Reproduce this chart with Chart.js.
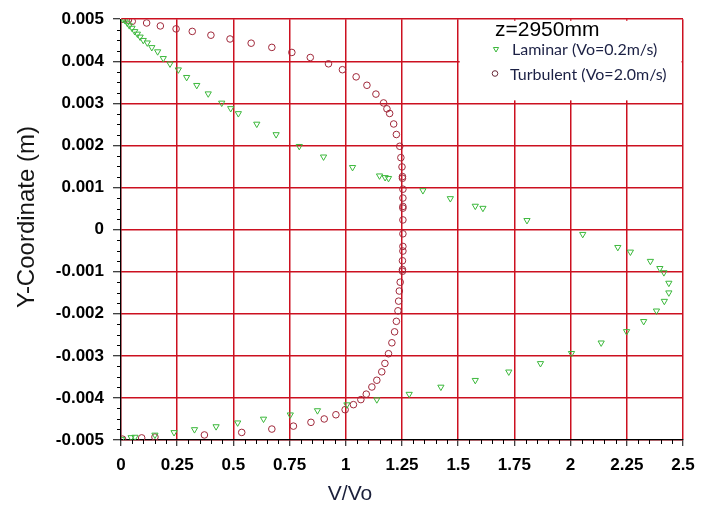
<!DOCTYPE html>
<html>
<head>
<meta charset="utf-8">
<script src="https://cdn.jsdelivr.net/npm/chart.js@4/dist/chart.umd.min.js"></script>
<style>
html,body{margin:0;padding:0;background:#fff;}
canvas{display:block;}
</style>
</head>
<body>
<canvas id="c" width="707" height="507"></canvas>
<script>
// ---- data ----
const lamV = [0.008,0.018,0.028,0.037,0.049,0.061,0.073,0.085,0.099,0.117,0.137,0.163,0.188,0.218,0.255,0.292,0.337,0.388,0.448,0.488,0.522,0.604,0.690,0.793,0.901,1.030,1.150,1.175,1.190,1.343,1.465,1.576,1.610,1.806,2.054,2.210,2.266,2.355,2.397,2.415,2.437,2.437,2.417,2.382,2.325,2.249,2.136,2.004,1.866,1.725,1.576,1.423,1.282,1.138,1.005,0.874,0.753,0.634,0.519,0.423,0.327,0.236,0.151,0.062,0.045,0.003];
const lamY = [0.00500,0.00497,0.00491,0.00485,0.00479,0.00471,0.00465,0.00458,0.00450,0.00444,0.00433,0.00423,0.00407,0.00394,0.00380,0.00362,0.00343,0.00323,0.00301,0.00288,0.00276,0.00251,0.00226,0.00198,0.00173,0.00148,0.00128,0.00124,0.00122,0.00093,0.00074,0.00056,0.00051,0.00022,-0.00011,-0.00042,-0.00053,-0.00075,-0.00092,-0.00102,-0.00127,-0.00150,-0.00170,-0.00193,-0.00218,-0.00242,-0.00269,-0.00294,-0.00318,-0.00338,-0.00358,-0.00374,-0.00391,-0.00404,-0.00416,-0.00430,-0.00440,-0.00450,-0.00459,-0.00468,-0.00475,-0.00482,-0.00488,-0.00493,-0.00494,-0.00498];
const turbV = [0.007,0.033,0.050,0.114,0.175,0.245,0.317,0.400,0.485,0.579,0.671,0.760,0.842,0.923,0.985,1.046,1.094,1.134,1.168,1.183,1.195,1.213,1.225,1.240,1.245,1.250,1.252,1.252,1.254,1.254,1.254,1.254,1.254,1.254,1.254,1.254,1.252,1.252,1.252,1.242,1.238,1.235,1.232,1.225,1.217,1.205,1.190,1.174,1.160,1.138,1.116,1.091,1.067,1.034,0.997,0.956,0.904,0.845,0.767,0.671,0.537,0.371,0.151,0.092,0.007];
const turbY = [0.00500,0.00498,0.00495,0.00491,0.00484,0.00477,0.00471,0.00462,0.00453,0.00443,0.00433,0.00421,0.00409,0.00394,0.00380,0.00363,0.00343,0.00322,0.00301,0.00287,0.00276,0.00251,0.00226,0.00198,0.00171,0.00149,0.00126,0.00122,0.00096,0.00075,0.00055,0.00051,0.00023,-0.00010,-0.00040,-0.00051,-0.00074,-0.00095,-0.00099,-0.00125,-0.00146,-0.00170,-0.00193,-0.00218,-0.00243,-0.00269,-0.00295,-0.00318,-0.00338,-0.00358,-0.00374,-0.00391,-0.00404,-0.00416,-0.00428,-0.00440,-0.00450,-0.00458,-0.00467,-0.00474,-0.00482,-0.00488,-0.00493,-0.00495,-0.00498];
const xTickLabels = ['0','0.25','0.5','0.75','1','1.25','1.5','1.75','2','2.25','2.5'];
const yTickLabels = ['-0.005','-0.004','-0.003','-0.002','-0.001','0','0.001','0.002','0.003','0.004','0.005'];
const seriesNames = ['Laminar (Vo=0.2m/s)','Turbulent (Vo=2.0m/s)'];
const legendTitle = 'z=2950mm';
const xTitle = 'V/Vo';
const yTitle = 'Y-Coordinate (m)';

const GRID = '#cc1020';
const GREEN = '#3cb83c';
const DRED = '#a0283a';

const lamData = lamV.map((v,i)=>({x:v,y:lamY[i]}));
const turbData = turbV.map((v,i)=>({x:v,y:turbY[i]}));

const decor = {
  id:'decor',
  beforeDatasetsDraw(chart){
    const ctx = chart.ctx, xs = chart.scales.x, ys = chart.scales.y;
    // minor ticks
    ctx.save();
    ctx.strokeStyle = '#000'; ctx.lineWidth = 1;
    ctx.beginPath();
    for(let i=0;i<=50;i++){
      if(i%5===0) continue;
      const px = Math.round(xs.getPixelForValue(i*0.05))+0.5;
      ctx.moveTo(px, ys.bottom); ctx.lineTo(px, ys.bottom+4);
    }
    for(let i=0;i<=40;i++){
      if(i%4===0) continue;
      const py = Math.round(ys.getPixelForValue(-0.005+i*0.00025))+0.5;
      ctx.moveTo(xs.left-4, py); ctx.lineTo(xs.left, py);
    }
    ctx.stroke();
    // legend box
    const l = xs.getPixelForValue(1.5)+1.5, r = xs.getPixelForValue(2.5)-1.5;
    const t = ys.getPixelForValue(0.005)+1.5, b = ys.getPixelForValue(0.003)-3;
    ctx.fillStyle = '#fff';
    ctx.fillRect(l, t, r-l, b-t);
    ctx.fillStyle = '#000';
    ctx.font = '21px "Liberation Sans", Arial, sans-serif';
    ctx.textBaseline = 'middle'; ctx.textAlign = 'left';
    ctx.fillText(legendTitle, 495, 30);
    ctx.fillStyle = '#1c2145';
    ctx.font = '16px Lato, "Liberation Sans", sans-serif';
    ctx.fillText(seriesNames[0], 512, 50);
    ctx.fillText(seriesNames[1], 510, 75);
    ctx.lineWidth = 1;
    ctx.fillStyle = 'rgba(0,0,0,0)';
    ctx.strokeStyle = GREEN;
    Chart.helpers.drawPoint(ctx, {pointStyle:'triangle', radius:3, rotation:180, borderWidth:1}, 496, 49);
    ctx.strokeStyle = '#6a2a3a';
    Chart.helpers.drawPoint(ctx, {pointStyle:'circle', radius:2.8, rotation:0, borderWidth:1}, 495, 73.5);
    ctx.restore();
  },
  afterDraw(chart){
    const ctx = chart.ctx;
    ctx.save();
    ctx.fillStyle = '#151515';
    ctx.font = '24px "Liberation Sans", Arial, sans-serif';
    ctx.textAlign = 'center'; ctx.textBaseline = 'middle';
    ctx.translate(27, 217); ctx.rotate(-Math.PI/2);
    ctx.fillText(yTitle, 0, 0);
    ctx.restore();
    ctx.save();
    ctx.fillStyle = '#1a1f3a';
    ctx.font = '21px "Liberation Sans", Arial, sans-serif';
    ctx.textAlign = 'center'; ctx.textBaseline = 'middle';
    ctx.fillText(xTitle, 350, 494);
    ctx.restore();
  }
};

new Chart(document.getElementById('c'), {
  type:'scatter',
  data:{
    datasets:[
      {label:seriesNames[0], data:lamData, pointStyle:'triangle', pointRotation:180, pointRadius:3.6, pointBorderWidth:1, borderColor:GREEN, backgroundColor:'rgba(0,0,0,0)', pointBackgroundColor:'rgba(0,0,0,0)', pointBorderColor:GREEN, showLine:false},
      {label:seriesNames[1], data:turbData, pointStyle:'circle', pointRadius:3.3, pointBorderWidth:1, borderColor:DRED, backgroundColor:'rgba(0,0,0,0)', pointBackgroundColor:'rgba(0,0,0,0)', pointBorderColor:DRED, showLine:false}
    ]
  },
  options:{
    responsive:false,
    animation:false,
    layout:{padding:{top:10,right:24,left:0,bottom:0}},
    plugins:{legend:{display:false}, tooltip:{enabled:false}},
    scales:{
      x:{
        type:'linear', min:0, max:2.5,
        afterFit(s){ s.height = 67; },
        ticks:{stepSize:0.25, color:'#000', padding:9, maxRotation:0, autoSkip:false,
          font:{family:'"Liberation Sans", Arial, sans-serif', size:17, weight:'bold'},
          callback:(v,i)=>xTickLabels[i]},
        grid:{color:GRID, lineWidth:1.5, tickColor:'#000', tickLength:6, tickWidth:1},
        border:{color:'#000', width:1.2}
      },
      y:{
        type:'linear', min:-0.005, max:0.005,
        afterFit(s){ s.width = 121; },
        ticks:{stepSize:0.001, color:'#000', padding:9, autoSkip:false,
          font:{family:'"Liberation Sans", Arial, sans-serif', size:17, weight:'bold'},
          callback:(v,i)=>yTickLabels[i]},
        grid:{color:GRID, lineWidth:1.5, tickColor:'#000', tickLength:8, tickWidth:1},
        border:{color:'#000', width:1.2}
      }
    }
  },
  plugins:[decor]
});
</script>
</body>
</html>
